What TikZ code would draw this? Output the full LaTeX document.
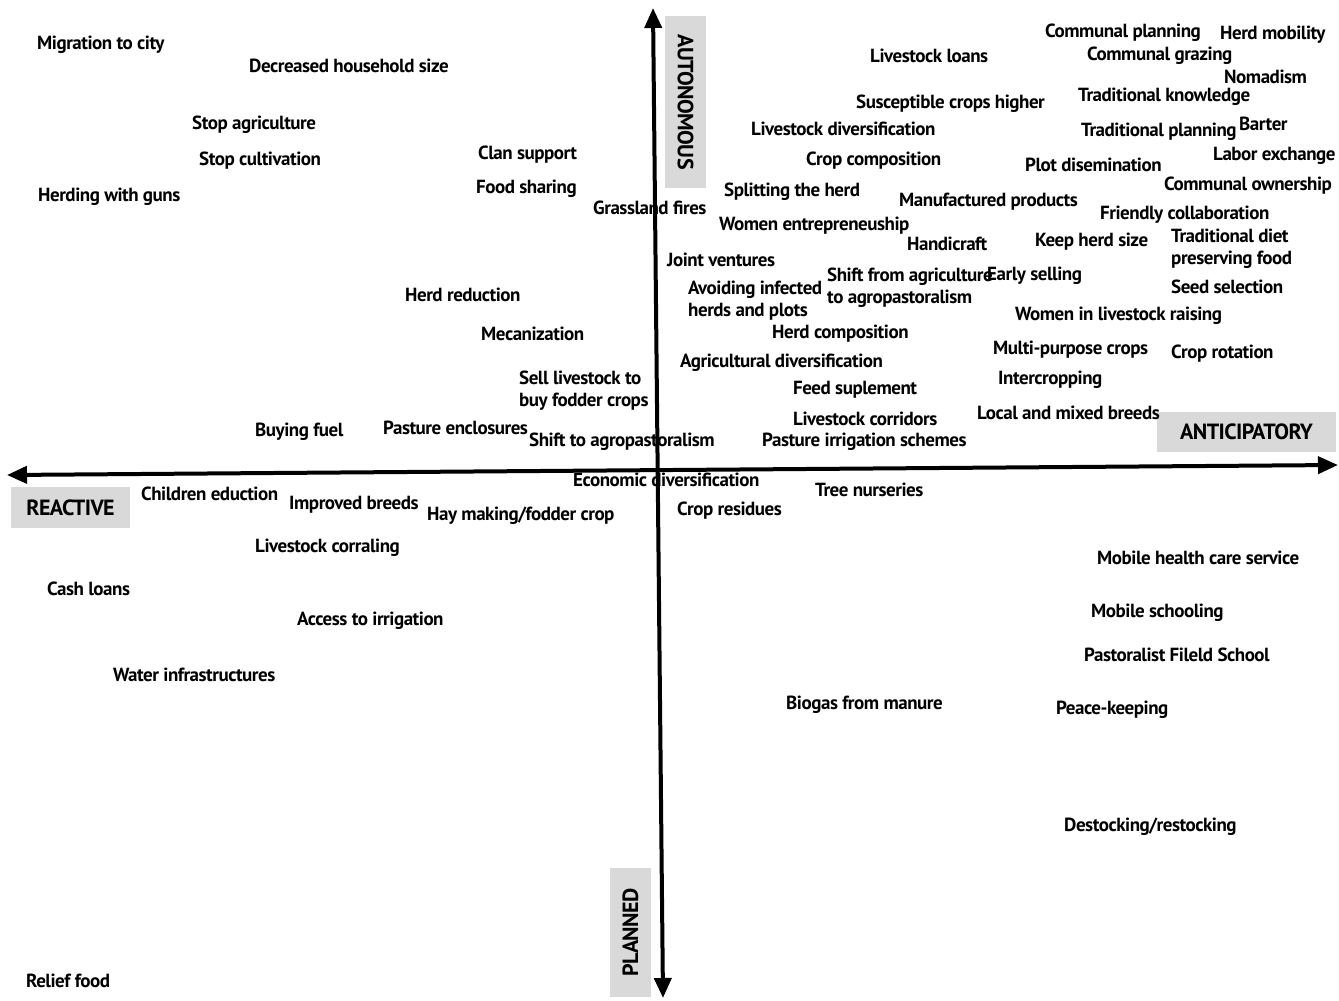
\documentclass[tikz,border=0pt]{standalone}
\usepackage{fontspec}
\setmainfont{PT Sans}
\newfontfamily\labfont[LetterSpace=-2.5]{PT Sans}
\usetikzlibrary{arrows.meta}
\definecolor{boxgray}{RGB}{217,217,217}
\begin{document}
\begin{tikzpicture}[x=1pt,y=-1pt,
  lab/.style={anchor=west,inner sep=0pt,yshift=-1pt,font=\labfont\fontsize{19}{22}\selectfont\bfseries,align=left},
  axisbox/.style={fill=boxgray,inner sep=0pt,font=\labfont\fontsize{22}{24}\selectfont\bfseries},
  axisline/.style={line width=4pt,{Triangle[length=20pt,width=17pt]}-{Triangle[length=20pt,width=17pt]}}]
\useasboundingbox (0,0) rectangle (1339,1001);
% axes
\coordinate (top) at (653,8);
\coordinate (bot) at (663,998);
\coordinate (left) at (7,475);
\coordinate (right) at (1338,465);
\draw[axisline] (bot) -- (top);
\draw[axisline] (left) -- (right);
% axis boxes
\node[axisbox,rotate=-90,minimum width=172pt,minimum height=41pt] (auto) at (685.5,102) {AUTONOMOUS};
\node[axisbox,rotate=90,minimum width=129pt,minimum height=41pt] (plan) at (630.5,932.5) {PLANNED};
\node[axisbox,minimum width=179pt,minimum height=40pt] (anti) at (1246.5,432) {ANTICIPATORY};
\node[axisbox,minimum width=119pt,minimum height=41pt] (reac) at (70.5,507.5) {REACTIVE};
% upper left
\node[lab] (a1) at (37,44) {Migration to city};
\node[lab] (a2) at (249,65) {Decreased household size};
\node[lab] (a3) at (192,124) {Stop agriculture};
\node[lab] (a4) at (199,160) {Stop cultivation};
\node[lab] (a5) at (38,196) {Herding with guns};
\node[lab] (a6) at (478,154) {Clan support};
\node[lab] (a7) at (476,188) {Food sharing};
\node[lab] (a8) at (593,207) {Grassland fires};
\node[lab] (a9) at (405,294) {Herd reduction};
\node[lab] (a10) at (481,333) {Mecanization};
\node[lab] (a11) at (519,390) {Sell livestock to\\buy fodder crops};
\node[lab] (a12) at (255,431) {Buying fuel};
\node[lab] (a13) at (383,427) {Pasture enclosures};
\node[lab] (a14) at (529,441) {Shift to agropastoralism};
% lower left
\node[lab] (b1) at (573,479) {Economic diversification};
\node[lab] (b2) at (141,493) {Children eduction};
\node[lab] (b3) at (289,504) {Improved breeds};
\node[lab] (b4) at (427,515) {Hay making/fodder crop};
\node[lab] (b5) at (255,547) {Livestock corraling};
\node[lab] (b6) at (47,588) {Cash loans};
\node[lab] (b7) at (297,620) {Access to irrigation};
\node[lab] (b8) at (113,674) {Water infrastructures};
\node[lab] (b9) at (26,980) {Relief food};
% lower right
\node[lab] (c1) at (677,510) {Crop residues};
\node[lab] (c2) at (815,489) {Tree nurseries};
\node[lab] (c3) at (786,704) {Biogas from manure};
\node[lab] (c4) at (1097,557) {Mobile health care service};
\node[lab] (c5) at (1091,612) {Mobile schooling};
\node[lab] (c6) at (1084,654) {Pastoralist Fileld School};
\node[lab] (c7) at (1056,709) {Peace-keeping};
\node[lab] (c8) at (1064,826) {Destocking/restocking};
% upper right
\node[lab] (d1) at (870,55) {Livestock loans};
\node[lab] (d2) at (856,103) {Susceptible crops higher};
\node[lab] (d3) at (751,128) {Livestock diversification};
\node[lab] (d4) at (806,160) {Crop composition};
\node[lab] (d5) at (724,191) {Splitting the herd};
\node[lab] (d6) at (899,201) {Manufactured products};
\node[lab] (d7) at (719,225) {Women entrepreneuship};
\node[lab] (d8) at (907,243) {Handicraft};
\node[lab] (d9) at (667,259) {Joint ventures};
\node[lab] (d10) at (688,300) {Avoiding infected\\herds and plots};
\node[lab] (d11) at (827,286.5) {Shift from agriculture\\to agropastoralism};
\node[lab] (d12) at (987,275) {Early selling};
\node[lab] (d13) at (1035,241) {Keep herd size};
\node[lab] (d14) at (772,333) {Herd composition};
\node[lab] (d15) at (680,362) {Agricultural diversification};
\node[lab] (d16) at (793,389) {Feed suplement};
\node[lab] (d17) at (793,418) {Livestock corridors};
\node[lab] (d18) at (762,441) {Pasture irrigation schemes};
\node[lab] (e1) at (1045,32) {Communal planning};
\node[lab] (e2) at (1220,34) {Herd mobility};
\node[lab] (e3) at (1087,55) {Communal grazing};
\node[lab] (e4) at (1224,76) {Nomadism};
\node[lab] (e5) at (1078,96) {Traditional knowledge};
\node[lab] (e6) at (1081,131) {Traditional planning};
\node[lab] (e7) at (1239,123) {Barter};
\node[lab] (e8) at (1213,155) {Labor exchange};
\node[lab] (e9) at (1025,164) {Plot disemination};
\node[lab] (e10) at (1164,185) {Communal ownership};
\node[lab] (e11) at (1100,214) {Friendly collaboration};
\node[lab] (e12) at (1171,248) {Traditional diet\\preserving food};
\node[lab] (e13) at (1171,286) {Seed selection};
\node[lab] (e14) at (1015,315) {Women in livestock raising};
\node[lab] (e15) at (993,349) {Multi-purpose crops};
\node[lab] (e16) at (1171,353) {Crop rotation};
\node[lab] (e17) at (998,379) {Intercropping};
\node[lab] (e18) at (977,412) {Local and mixed breeds};
\end{tikzpicture}
\end{document}
